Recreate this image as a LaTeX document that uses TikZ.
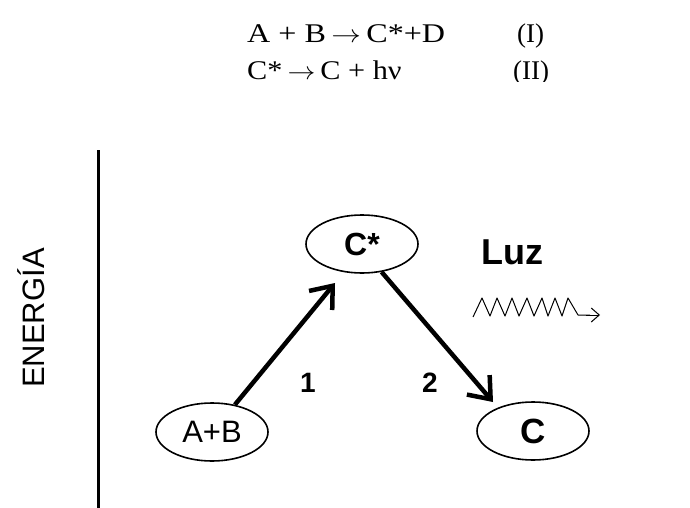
\documentclass[tikz,border=0pt]{standalone}
\usepackage{fontspec}
\setmainfont{Liberation Serif}
\setsansfont{Liberation Sans}
\usetikzlibrary{arrows.meta,shapes.geometric}
\newcommand{\eqarrow}{\,$\rightarrow$\,}
\begin{document}
\begin{tikzpicture}[x=1pt,y=-1pt,
  state/.style={draw,ellipse,line width=1.6pt,inner sep=0pt,
    minimum width=112pt,minimum height=58pt,font=\sffamily},
  react/.style={line width=4.5pt,
    -{Straight Barb[length=19pt,width=30pt,line width=4.5pt]}},
  stepnum/.style={font=\sffamily\bfseries\fontsize{28}{28}\selectfont},
  eqn/.style={anchor=base west,inner sep=0pt,font=\fontsize{27}{27}\selectfont}]
\useasboundingbox (0,0) rectangle (690,508);

% reaction equations (the lower line is trimmed at its baseline)
\begin{scope}
  \clip (0,0) rectangle (690,82);
  \node[eqn] (eq1) at (247,43) {\scalebox{1.19}[1]{A + B\eqarrow C*+D}};
  \node[eqn] (eq1n) at (517,43) {(I)};
  \node[eqn] (eq2) at (247,80) {\scalebox{1.12}[1]{C*\eqarrow C + hν}};
  \node[eqn] (eq2n) at (513,80) {(II)};
\end{scope}

% energy axis
\draw[line width=3pt] (98,150) -- (98,508);
\node[rotate=90,font=\sffamily\fontsize{31}{31}\selectfont] (axis) at (31,318) {ENERGÍA};

% states
\node[state,font=\sffamily\fontsize{31}{31}\selectfont] (ab) at (212,432) {A+B};
\node[state,font=\sffamily\bfseries\fontsize{32}{32}\selectfont] (cs) at (362,244) {C*};
\node[state,font=\sffamily\bfseries\fontsize{35}{35}\selectfont] (c) at (533,431) {C};

% transitions
\draw[react] (ab.50) -- (335,283);
\draw[react] (cs.-55) -- (493,402);
\node[stepnum] (n1) at (308,383) {1};
\node[stepnum] (n2) at (430,383) {2};

% emitted light
\node[font=\sffamily\bfseries\fontsize{36}{36}\selectfont] (luz) at (512,252) {Luz};
\coordinate (w0) at (473,317);
\coordinate (w1) at (600,315);
\draw[line width=1pt,line join=round]
  (w0) -- (482,298) -- (490,316) -- (497,298) -- (505,316) -- (512,298)
  -- (519,316) -- (527,298) -- (534,316) -- (542,298) -- (548,316)
  -- (555,298) -- (562,316) -- (568,298) -- (578,315) -- (590,315);
\draw[line width=1pt,-{Straight Barb[length=8pt,width=14pt]}] (586,315) -- (w1);
\end{tikzpicture}
\end{document}
